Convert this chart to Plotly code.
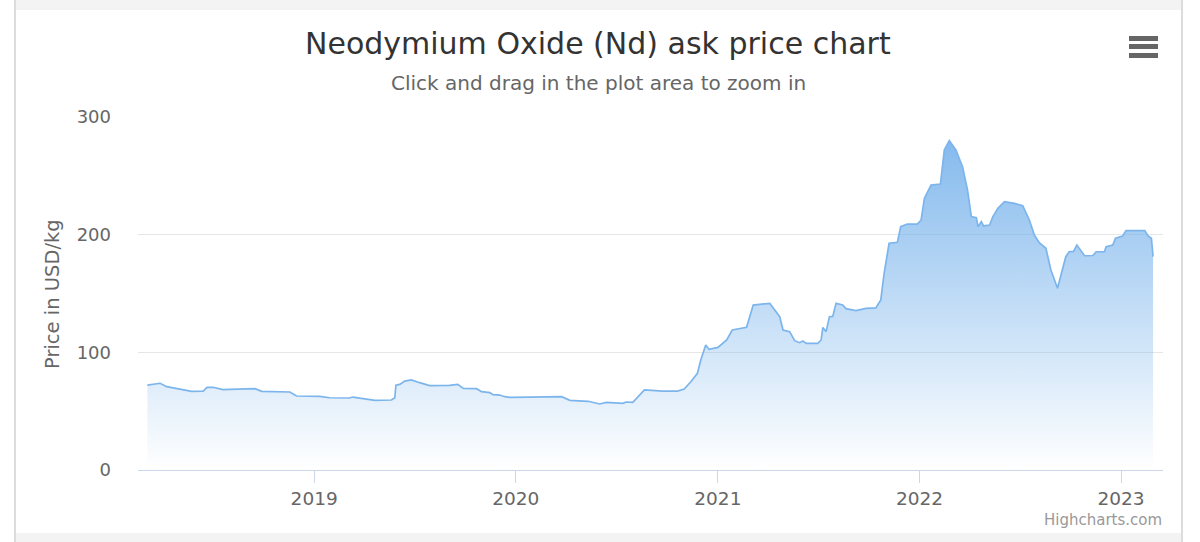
import plotly.graph_objects as go

# ---- data ----
dates = [
    "2018-03-05", "2018-03-28", "2018-04-09", "2018-05-03", "2018-05-24", "2018-06-14",
    "2018-06-21", "2018-07-02", "2018-07-20", "2018-08-01", "2018-08-29", "2018-09-16",
    "2018-09-28", "2018-11-18", "2018-11-30", "2019-01-11", "2019-01-29", "2019-03-06",
    "2019-03-12", "2019-03-30", "2019-04-21", "2019-05-21", "2019-05-27", "2019-05-29",
    "2019-06-05", "2019-06-14", "2019-06-26", "2019-07-11", "2019-07-29", "2019-09-03",
    "2019-09-18", "2019-09-28", "2019-10-22", "2019-10-31", "2019-11-15", "2019-11-21",
    "2019-12-03", "2019-12-12", "2019-12-21", "2020-01-26", "2020-03-03", "2020-03-24",
    "2020-04-08", "2020-05-11", "2020-06-01", "2020-06-13", "2020-07-13", "2020-07-19",
    "2020-07-31", "2020-08-12", "2020-08-21", "2020-09-23", "2020-10-20", "2020-11-01",
    "2020-11-13", "2020-11-25", "2020-12-01", "2020-12-10", "2020-12-16", "2021-01-01",
    "2021-01-17", "2021-01-27", "2021-02-22", "2021-03-06", "2021-04-05", "2021-04-14",
    "2021-04-23", "2021-04-29", "2021-05-11", "2021-05-20", "2021-05-29", "2021-06-04",
    "2021-06-10", "2021-07-01", "2021-07-07", "2021-07-10", "2021-07-16", "2021-07-22",
    "2021-07-28", "2021-08-03", "2021-08-15", "2021-08-21", "2021-09-08", "2021-09-26",
    "2021-10-14", "2021-10-23", "2021-10-29", "2021-11-07", "2021-11-22", "2021-11-28",
    "2021-12-10", "2021-12-28", "2022-01-04", "2022-01-10", "2022-01-22", "2022-02-08",
    "2022-02-15", "2022-02-24", "2022-03-08", "2022-03-20", "2022-03-29", "2022-04-05",
    "2022-04-14", "2022-04-17", "2022-04-23", "2022-04-27", "2022-05-08", "2022-05-14",
    "2022-05-23", "2022-06-04", "2022-06-22", "2022-07-07", "2022-07-19", "2022-07-28",
    "2022-08-06", "2022-08-18", "2022-08-27", "2022-09-08", "2022-09-14", "2022-09-23",
    "2022-09-29", "2022-10-07", "2022-10-13", "2022-10-27", "2022-11-11", "2022-11-17",
    "2022-12-02", "2022-12-05", "2022-12-17", "2022-12-22", "2023-01-04", "2023-01-10",
    "2023-02-13", "2023-02-19", "2023-02-25", "2023-02-28",
]
prices = [
    72.2, 73.7, 70.8, 68.8, 66.9, 67.1,
    70.3, 70.3, 68.3, 68.6, 68.8, 69.1,
    66.9, 66.3, 62.9, 62.6, 61.4, 61.2,
    62.0, 60.6, 59.2, 59.5, 61.4, 72.0,
    72.8, 75.6, 76.5, 74.2, 71.7, 71.9,
    72.8, 69.4, 69.1, 66.6, 65.7, 64.0,
    63.7, 62.3, 61.8, 62.0, 62.3, 62.3,
    59.2, 58.4, 56.1, 57.5, 56.7, 57.8,
    57.5, 63.7, 68.0, 67.1, 67.1, 68.8,
    75.0, 82.2, 93.5, 106.2, 102.5, 104.2,
    110.5, 119.0, 121.3, 140.2, 141.6, 136.0,
    130.3, 119.0, 117.6, 109.9, 108.2, 109.6,
    107.6, 107.6, 110.5, 121.0, 117.6, 130.3,
    130.5, 141.6, 140.2, 137.1, 135.4, 137.4,
    137.8, 144.5, 167.0, 192.7, 193.5, 206.8,
    209.0, 209.0, 212.5, 230.9, 242.2, 243.0,
    272.0, 279.9, 272.0, 257.8, 238.0, 215.3,
    214.4, 206.8, 211.0, 207.4, 208.2, 215.3,
    222.4, 228.0, 226.6, 224.6, 212.5, 199.7,
    193.2, 188.4, 170.0, 154.4, 164.3, 181.3,
    185.5, 185.8, 191.2, 182.1, 182.3, 185.5,
    185.5, 189.8, 191.2, 196.9, 198.9, 203.4,
    203.4, 198.9, 196.9, 181.3,
]
year_ticks = ["2019-01-01", "2020-01-01", "2021-01-01", "2022-01-01", "2023-01-01"]
year_labels = ["2019", "2020", "2021", "2022", "2023"]
y_ticks = [0, 100, 200, 300]

FONT = "DejaVu Sans"
TXT = "#666666"

fig = go.Figure()
fig.add_trace(go.Scatter(
    x=dates, y=prices, mode="lines",
    line=dict(color="#7cb5ec", width=1.7),
    fill="tozeroy",
    fillgradient=dict(
        type="vertical", start=0, stop=300,
        colorscale=[[0, "rgba(124,181,236,0.0)"], [1, "rgba(124,181,236,1.0)"]],
    ),
    hoverinfo="x+y", showlegend=False,
))

L, R, T, B = 138, 37, 117, 72
W, H = 1200, 542
pw, ph = W - L - R, H - T - B


def px(xp):
    return (xp - L) / pw


def py(yp):
    return (H - B - yp) / ph


fig.update_layout(
    width=W, height=H,
    margin=dict(l=L, r=R, t=T, b=B),
    paper_bgcolor="white", plot_bgcolor="white",
    font=dict(family=FONT, color=TXT),
    xaxis=dict(
        type="date", range=["2018-02-16", "2023-03-18"],
        tickvals=year_ticks, ticktext=year_labels,
        showgrid=False, zeroline=False,
        showline=True, linecolor="#ccd6eb", linewidth=1,
        ticks="outside", ticklen=12, tickcolor="#ccd6eb", tickwidth=1,
        tickfont=dict(size=18.5, color=TXT, family=FONT),
    ),
    yaxis=dict(
        range=[0, 300], tickvals=y_ticks,
        showgrid=True, gridcolor="#e6e6e6", gridwidth=1,
        zeroline=False, showline=False,
        ticks="", ticklabelstandoff=26,
        tickfont=dict(size=18, color=TXT, family=FONT),
    ),
    annotations=[
        dict(text="Neodymium Oxide (Nd) ask price chart", xref="paper", yref="paper",
             x=px(598), y=py(43), showarrow=False, xanchor="center", yanchor="middle",
             font=dict(size=30, color="#333333", family=FONT)),
        dict(text="Click and drag in the plot area to zoom in", xref="paper", yref="paper",
             x=px(598), y=py(83), showarrow=False, xanchor="center", yanchor="middle",
             font=dict(size=20, color=TXT, family=FONT)),
        dict(text="Price in USD/kg", xref="paper", yref="paper", textangle=-90,
             x=px(52), y=py(294), showarrow=False, xanchor="center", yanchor="middle",
             font=dict(size=19.5, color=TXT, family=FONT)),
        dict(text="Highcharts.com", xref="paper", yref="paper",
             x=px(1164), y=py(520), showarrow=False, xanchor="right", yanchor="middle",
             font=dict(size=15, color="#999999", family=FONT)),
    ],
    shapes=[
        # page frame
        dict(type="rect", xref="paper", yref="paper", x0=px(16), x1=px(1181), y0=py(0), y1=py(10),
             fillcolor="#f3f3f3", line=dict(width=0), layer="below"),
        dict(type="rect", xref="paper", yref="paper", x0=px(16), x1=px(1181), y0=py(533), y1=py(542),
             fillcolor="#f3f3f3", line=dict(width=0), layer="below"),
        dict(type="rect", xref="paper", yref="paper", x0=px(14), x1=px(16), y0=py(0), y1=py(542),
             fillcolor="#dcdcdc", line=dict(width=0), layer="below"),
        dict(type="rect", xref="paper", yref="paper", x0=px(1181), x1=px(1183), y0=py(0), y1=py(542),
             fillcolor="#dcdcdc", line=dict(width=0), layer="below"),
        # menu icon
        dict(type="rect", xref="paper", yref="paper", x0=px(1129), x1=px(1158), y0=py(36), y1=py(41),
             fillcolor="#666666", line=dict(width=0)),
        dict(type="rect", xref="paper", yref="paper", x0=px(1129), x1=px(1158), y0=py(44), y1=py(49),
             fillcolor="#666666", line=dict(width=0)),
        dict(type="rect", xref="paper", yref="paper", x0=px(1129), x1=px(1158), y0=py(53), y1=py(58),
             fillcolor="#666666", line=dict(width=0)),
    ],
)

fig.write_html(
    "out.html",
    config={"displayModeBar": False},
    post_script="document.body.style.margin='0';document.body.style.overflow='hidden';",
)
